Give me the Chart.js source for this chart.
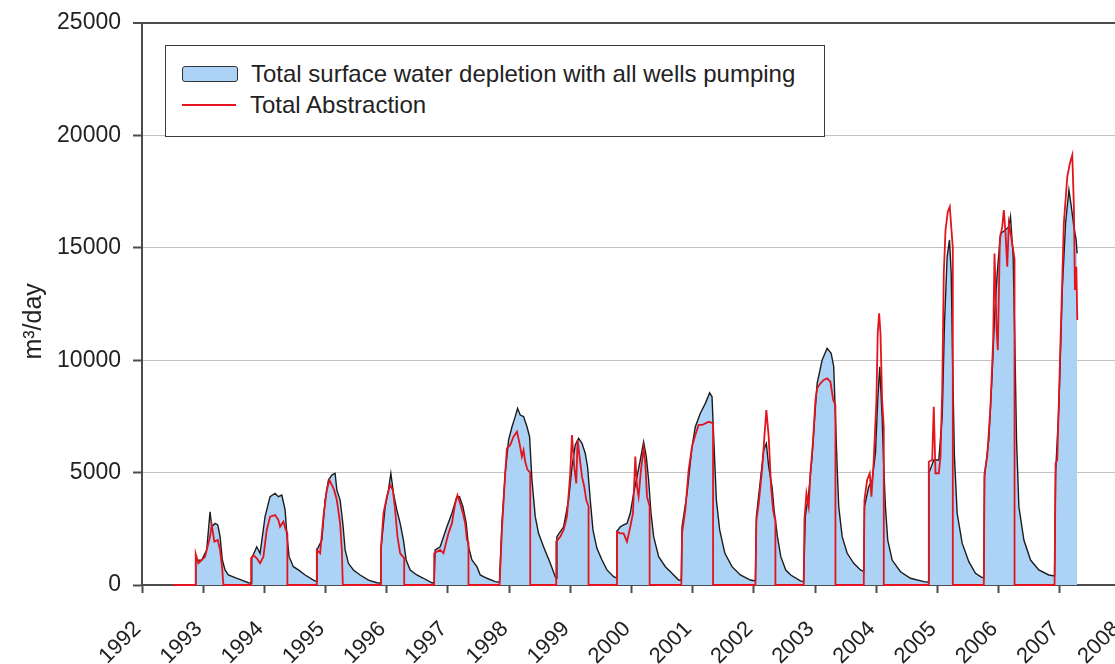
<!DOCTYPE html>
<html>
<head>
<meta charset="utf-8">
<script src="https://cdn.jsdelivr.net/npm/chart.js@4.4.1/dist/chart.umd.min.js"></script>
<style>
  body { margin: 0; background: #fff; overflow: hidden; }
  #wrap { position: relative; width: 1115px; height: 664px; overflow: hidden; }
  #legend {
    position: absolute; left: 165px; top: 45px; width: 658px; height: 90px;
    border: 1.5px solid #3a3a3a; background: #fff;
    font-family: "Liberation Sans", Arial, sans-serif; font-size: 24px; color: #222;
  }
  .row { position: absolute; left: 16px; height: 26px; display: flex; align-items: center; white-space: nowrap; }
  .swatch { width: 54px; height: 14px; margin-right: 13px; box-sizing: content-box; }
  .box { background: #acd3f5; border: 1.5px solid #333; border-radius: 3px; }
  .line { height: 2px; background: #e3141e; margin-top: 1px; margin-bottom: 1px; margin-right: 14px; }
</style>
</head>
<body>
<div id="wrap">
  <canvas id="flowChart" width="1121" height="664"></canvas>
  <div id="legend">
    <div class="row" style="top: 15px;"><span class="swatch box"></span>Total surface water depletion with all wells pumping</div>
    <div class="row" style="top: 46px;"><span class="swatch line"></span>Total Abstraction</div>
  </div>
</div>
<script>
// tick values
const yearTicks = [1992, 1993, 1994, 1995, 1996, 1997, 1998, 1999, 2000, 2001, 2002, 2003, 2004, 2005, 2006, 2007, 2008];
const flowTicks = [0, 5000, 10000, 15000, 20000, 25000];

// Total Abstraction (m3/day)
const abstractionYear = [
  1992.507, 1992.878, 1992.878, 1992.921, 1993.030, 1993.112, 1993.140, 1993.182, 1993.238, 1993.276, 1993.313, 1993.330,
  1993.783, 1993.783, 1993.820, 1993.876, 1993.930, 1993.984, 1994.039, 1994.093, 1994.175, 1994.229, 1994.257, 1994.311, 1994.350, 1994.376, 1994.376,
  1994.857, 1994.857, 1994.911, 1994.965, 1995.020, 1995.063, 1995.102, 1995.140, 1995.184, 1995.238, 1995.266, 1995.282,
  1995.892, 1995.904, 1995.946, 1996.002, 1996.056, 1996.100, 1996.137, 1996.175, 1996.219, 1996.263, 1996.285, 1996.285,
  1996.775, 1996.775, 1996.873, 1996.927, 1997.009, 1997.065, 1997.119, 1997.156, 1997.200, 1997.245, 1997.282, 1997.310, 1997.336, 1997.336,
  1997.843, 1997.882, 1997.936, 1997.964, 1998.018, 1998.072, 1998.128, 1998.170, 1998.209, 1998.236, 1998.263, 1998.301, 1998.345, 1998.345,
  1998.770, 1998.770, 1998.836, 1998.890, 1998.945, 1998.999, 1999.027, 1999.064, 1999.097, 1999.119, 1999.151, 1999.191, 1999.228, 1999.261, 1999.298, 1999.298,
  1999.763, 1999.763, 1999.817, 1999.871, 1999.926, 1999.980, 2000.024, 2000.062, 2000.090, 2000.116, 2000.155, 2000.198, 2000.226, 2000.253, 2000.296, 2000.296,
  2000.814, 2000.826, 2000.880, 2000.934, 2000.989, 2001.043, 2001.097, 2001.153, 2001.207, 2001.261, 2001.333, 2001.333,
  2002.025, 2002.041, 2002.079, 2002.134, 2002.172, 2002.204, 2002.242, 2002.281, 2002.314, 2002.335, 2002.352, 2002.352,
  2002.814, 2002.826, 2002.859, 2002.896, 2002.924, 2002.968, 2003.006, 2003.034, 2003.088, 2003.142, 2003.197, 2003.251, 2003.296, 2003.333, 2003.333,
  2003.796, 2003.807, 2003.851, 2003.894, 2003.921, 2003.959, 2004.003, 2004.024, 2004.047, 2004.069, 2004.096, 2004.123, 2004.123,
  2004.859, 2004.859, 2004.914, 2004.940, 2004.968, 2005.022, 2005.050, 2005.078, 2005.104, 2005.132, 2005.169, 2005.202, 2005.225, 2005.251, 2005.251,
  2005.758, 2005.769, 2005.813, 2005.867, 2005.911, 2005.933, 2005.965, 2005.987, 2006.020, 2006.059, 2006.085, 2006.113, 2006.141, 2006.167, 2006.206, 2006.260, 2006.260,
  2006.914, 2006.931, 2006.958, 2007.012, 2007.066, 2007.122, 2007.165, 2007.204, 2007.230, 2007.247, 2007.270, 2007.286
];
const abstractionFlow = [
  0, 0, 1380, 965, 1260, 2150, 2670, 1930, 2000, 1560, 670, 0,
  0, 1190, 1330, 1190, 965, 1260, 2450, 3040, 3110, 2890, 2590, 2820, 2450, 2300, 0,
  0, 1560, 1410, 3040, 4230, 4670, 4450, 4230, 3780, 2740, 1560, 0,
  0, 1560, 3190, 3930, 4450, 4230, 3340, 2150, 1410, 1260, 1200, 0,
  0, 1410, 1560, 1410, 2300, 2740, 3630, 4000, 3630, 3190, 2740, 2000, 1900, 0,
  0, 2450, 4970, 6080, 6230, 6600, 6820, 6300, 5710, 6000, 5480, 5120, 5000, 0,
  0, 1930, 2150, 2450, 3040, 4970, 6670, 5260, 4520, 6450, 5710, 4820, 4370, 3780, 3500, 0,
  0, 2370, 2300, 2300, 1930, 2590, 3190, 5710, 4370, 3930, 5120, 6080, 5410, 3930, 3500, 0,
  0, 2300, 3340, 5120, 6150, 6670, 7120, 7120, 7190, 7260, 7200, 0,
  0, 2890, 3630, 5120, 6600, 7780, 6600, 4370, 3340, 3040, 2900, 0,
  0, 2890, 4080, 3480, 4970, 6450, 8230, 8750, 8970, 9120, 9190, 9040, 8230, 8000, 0,
  0, 3780, 4670, 4970, 3930, 5560, 8230, 11200, 12090, 11200, 8230, 7000, 0,
  0, 5480, 5560, 7930, 4970, 4970, 5710, 8670, 13870, 15790, 16610, 16830, 15940, 15000, 0,
  0, 4970, 5710, 7930, 10900, 14750, 11490, 10450, 15350, 15940, 16680, 15640, 14160, 16090, 15490, 14500, 0,
  0, 5410, 5560, 10900, 16090, 18160, 18760, 19130, 16830, 13120, 14160, 11790
];

// Total surface water depletion (m3/day)
const depletionYear = [
  1992.878, 1992.878, 1992.976, 1993.058, 1993.112, 1993.140, 1993.194, 1993.238, 1993.276, 1993.313, 1993.357, 1993.411, 1993.521, 1993.630, 1993.738, 1993.783,
  1993.794, 1993.876, 1993.930, 1994.011, 1994.093, 1994.175, 1994.229, 1994.285, 1994.339, 1994.366, 1994.404, 1994.474, 1994.556, 1994.666, 1994.801, 1994.857,
  1994.860, 1994.939, 1994.993, 1995.047, 1995.102, 1995.156, 1995.184, 1995.238, 1995.282, 1995.320, 1995.374, 1995.455, 1995.565, 1995.701, 1995.838, 1995.892,
  1995.904, 1995.974, 1996.028, 1996.067, 1996.110, 1996.165, 1996.219, 1996.273, 1996.317, 1996.383, 1996.492, 1996.600, 1996.738, 1996.775,
  1996.791, 1996.873, 1996.983, 1997.065, 1997.146, 1997.189, 1997.245, 1997.299, 1997.336, 1997.392, 1997.474, 1997.528, 1997.637, 1997.773, 1997.843,
  1997.882, 1997.936, 1997.991, 1998.047, 1998.100, 1998.138, 1998.182, 1998.236, 1998.292, 1998.334, 1998.373, 1998.427, 1998.481, 1998.563, 1998.673, 1998.754, 1998.770,
  1998.781, 1998.890, 1998.972, 1999.027, 1999.081, 1999.136, 1999.191, 1999.244, 1999.282, 1999.326, 1999.370, 1999.435, 1999.518, 1999.599, 1999.708, 1999.763,
  1999.766, 1999.817, 1999.871, 1999.926, 1999.980, 2000.035, 2000.090, 2000.144, 2000.198, 2000.242, 2000.280, 2000.319, 2000.362, 2000.444, 2000.553, 2000.662, 2000.770, 2000.814,
  2000.826, 2000.908, 2000.989, 2001.043, 2001.125, 2001.207, 2001.277, 2001.316, 2001.343, 2001.387, 2001.441, 2001.526, 2001.643, 2001.779, 2001.943, 2002.025,
  2002.041, 2002.107, 2002.161, 2002.204, 2002.242, 2002.297, 2002.330, 2002.385, 2002.440, 2002.521, 2002.603, 2002.760, 2002.814,
  2002.840, 2002.896, 2002.951, 2003.006, 2003.034, 2003.116, 2003.197, 2003.263, 2003.305, 2003.333, 2003.361, 2003.387, 2003.443, 2003.525, 2003.632, 2003.742, 2003.796,
  2003.807, 2003.877, 2003.933, 2003.987, 2004.024, 2004.057, 2004.096, 2004.123, 2004.150, 2004.188, 2004.260, 2004.396, 2004.559, 2004.777, 2004.859,
  2004.859, 2004.940, 2005.022, 2005.078, 2005.115, 2005.159, 2005.197, 2005.225, 2005.251, 2005.278, 2005.322, 2005.404, 2005.513, 2005.622, 2005.704, 2005.758,
  2005.769, 2005.839, 2005.895, 2005.933, 2005.977, 2006.031, 2006.113, 2006.167, 2006.194, 2006.238, 2006.264, 2006.293, 2006.331, 2006.413, 2006.522, 2006.657, 2006.820, 2006.914,
  2006.931, 2006.985, 2007.040, 2007.094, 2007.149, 2007.188, 2007.230, 2007.267, 2007.283
];
const depletionFlow = [
  0, 1100, 1110, 1560, 3260, 2590, 2740, 2670, 2150, 1110, 670, 445, 325, 220, 100, 90,
  1190, 1700, 1410, 3040, 3930, 4080, 3930, 4000, 3340, 2300, 1260, 815, 670, 445, 220, 150,
  1560, 2000, 3780, 4670, 4890, 4970, 4230, 3780, 2740, 1560, 965, 670, 445, 220, 100, 90,
  1560, 3480, 4230, 4970, 4080, 3340, 2740, 2000, 1110, 670, 445, 300, 100, 90,
  1560, 1700, 2590, 3190, 3930, 3930, 3480, 2740, 1700, 1110, 815, 445, 300, 150, 120,
  2740, 4970, 6450, 7040, 7490, 7860, 7560, 7490, 7040, 6600, 4670, 3040, 2300, 1700, 965, 370, 300,
  2150, 2590, 3780, 5260, 6230, 6520, 6300, 5860, 5260, 3780, 2450, 1630, 1110, 670, 370, 300,
  2400, 2590, 2670, 2740, 3190, 4080, 4820, 5560, 6370, 5710, 4670, 3190, 2150, 1260, 815, 520, 220, 200,
  2590, 4080, 6150, 7040, 7640, 8080, 8550, 8380, 6600, 3780, 2450, 1410, 815, 445, 220, 180,
  3040, 4670, 6000, 6300, 5260, 4370, 3340, 2150, 1260, 667, 445, 180, 150,
  3040, 4080, 5710, 7930, 8970, 10010, 10530, 10310, 9710, 7490, 5260, 3480, 2150, 1410, 965, 670, 600,
  3480, 4370, 4670, 5860, 8230, 9710, 7490, 5260, 3480, 2000, 1110, 590, 300, 150, 120,
  4970, 5560, 5560, 7490, 11640, 14600, 15350, 13870, 9420, 5710, 3190, 1860, 1040, 520, 370, 300,
  4820, 6450, 9420, 11940, 13870, 15640, 15790, 15940, 16380, 14600, 10900, 6450, 3480, 2000, 1110, 670, 445, 400,
  4970, 7930, 13120, 16090, 17570, 16830, 15940, 15350, 14750
];

function toPoints(xs, ys) {
  return xs.map((x, i) => ({ x: x, y: ys[i] }));
}

const fontFamily = '"Liberation Sans", Arial, sans-serif';
const axisGrey = '#4d4d4d';

new Chart(document.getElementById('flowChart'), {
  type: 'line',
  data: {
    datasets: [{
      label: 'Total Abstraction',
      data: toPoints(abstractionYear, abstractionFlow),
      borderColor: '#e3141e',
      borderWidth: 1.8,
      pointRadius: 0,
      fill: false,
      clip: 4
    }, {
      label: 'Total surface water depletion with all wells pumping',
      data: toPoints(depletionYear, depletionFlow),
      borderColor: '#1c1c1c',
      borderWidth: 1.4,
      backgroundColor: '#acd3f5',
      pointRadius: 0,
      fill: 'origin'
    }]
  },
  options: {
    responsive: false,
    animation: false,
    layout: { padding: { top: 23, left: 0, right: 0, bottom: 0 } },
    plugins: { legend: { display: false }, tooltip: { enabled: false } },
    elements: { line: { tension: 0 } },
    scales: {
      x: {
        type: 'linear',
        min: 1992,
        max: 2008,
        afterBuildTicks: s => { s.ticks = yearTicks.map(v => ({ value: v })); },
        afterFit: s => { s.height = 79; s.paddingRight = 0; },
        ticks: {
          autoSkip: false,
          minRotation: 45,
          maxRotation: 45,
          padding: 19,
          color: '#222',
          font: { family: fontFamily, size: 22 },
          callback: v => String(v) + ' '
        },
        grid: { drawOnChartArea: false, tickLength: 8, tickColor: axisGrey, tickWidth: 2 },
        border: { color: axisGrey, width: 2 }
      },
      y: {
        min: 0,
        max: 25000,
        afterBuildTicks: s => { s.ticks = flowTicks.map(v => ({ value: v })); },
        afterFit: s => { s.width = 142; s.paddingTop = 0; s.paddingBottom = 0; },
        ticks: {
          padding: 12,
          color: '#222',
          font: { family: fontFamily, size: 23 },
          callback: v => String(v)
        },
        grid: {
          color: c => c.tick && c.tick.value === 25000 ? axisGrey : '#c2c2c2',
          lineWidth: c => c.tick && c.tick.value === 25000 ? 2 : 1,
          tickLength: 9,
          tickColor: axisGrey,
          tickWidth: 2
        },
        border: { color: axisGrey, width: 2 },
        title: {
          display: true,
          text: 'm³/day     ',
          color: '#222',
          font: { family: fontFamily, size: 25 },
          padding: { top: 19, bottom: 0 }
        }
      }
    }
  }
});
</script>
</body>
</html>
